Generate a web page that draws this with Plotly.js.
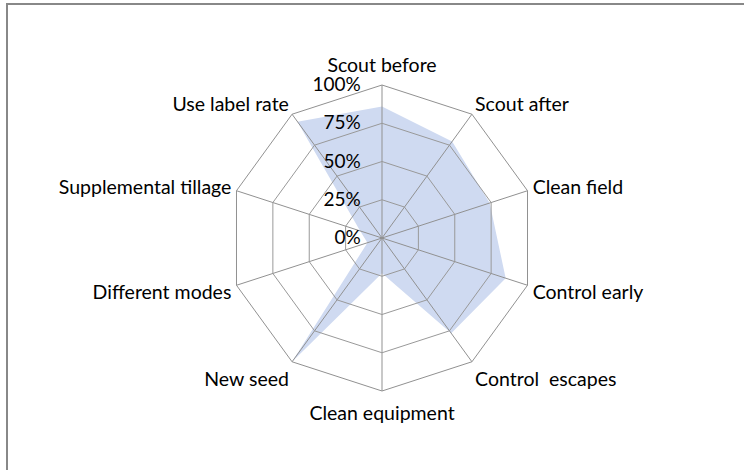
<!DOCTYPE html>
<html>
<head>
<meta charset="utf-8">
<script src="https://cdn.plot.ly/plotly-3.0.1.min.js"></script>
<style>html,body{margin:0;padding:0;background:#fff;}#chart{width:744px;height:470px;}</style>
</head>
<body>
<div id="chart"></div>
<script>
const categories = ["Scout before", "Scout after", "Clean field", "Control early", "Control\u00a0 escapes",
  "Clean equipment", "New seed", "Different modes", "Supplemental tillage", "Use label rate"];
const values = [0.86, 0.78, 0.74, 0.85, 0.77, 0.23, 1.00, 0.10, 0.15, 0.94];
const radialTicks = [0, 0.25, 0.5, 0.75, 1];

// top and bottom labels sit a little further from the web than the side ones
const verticalCats = [categories[0], categories[5]];
const sideText = categories.map(c => verticalCats.includes(c) ? "" : c);
const vertText = categories.map(c => verticalCats.includes(c) ? c : "");

const areaTrace = {
  type: "scatterpolar", subplot: "polar",
  r: values, theta: categories,
  fill: "toself", fillcolor: "#cfdaf1",
  mode: "lines", line: {width: 0, color: "rgba(0,0,0,0)"},
  hoverinfo: "skip"
};
// invisible traces that carry the category axes of the overlay subplots
const gridTrace = {
  type: "scatterpolar", subplot: "polar2",
  r: values, theta: categories,
  mode: "markers", marker: {size: 1, color: "rgba(0,0,0,0)"}, hoverinfo: "skip"
};
const labelTrace = {
  type: "scatterpolar", subplot: "polar3",
  r: values, theta: categories,
  mode: "markers", marker: {size: 1, color: "rgba(0,0,0,0)"}, hoverinfo: "skip"
};

const dom = {x: [229/744, 535/744], y: [79/470, 385/470]};
const FS = 19.5;

const layout = {
  width: 744, height: 470,
  margin: {l: 0, r: 0, t: 0, b: 0},
  paper_bgcolor: "#fff",
  showlegend: false,
  font: {family: "Lato, 'Liberation Sans', sans-serif", size: FS, color: "#000"},
  polar: {
    domain: dom, bgcolor: "rgba(0,0,0,0)", gridshape: "linear",
    angularaxis: {rotation: 90, direction: "clockwise", categoryarray: categories,
      showline: false, showgrid: false, showticklabels: false, ticks: ""},
    radialaxis: {range: [0, 1], angle: 90, showline: false, showgrid: false, showticklabels: false, ticks: ""}
  },
  polar2: {
    domain: dom, bgcolor: "rgba(0,0,0,0)", gridshape: "linear",
    angularaxis: {
      rotation: 90, direction: "clockwise", categoryarray: categories,
      tickmode: "array", tickvals: categories, ticktext: sideText,
      linecolor: "#919191", linewidth: 1, showline: true,
      gridcolor: "#919191", gridwidth: 1,
      ticks: "outside", ticklen: 1, tickcolor: "rgba(0,0,0,0)", tickfont: {size: FS}
    },
    radialaxis: {
      range: [0, 1], angle: 90, side: "counterclockwise",
      tickvals: radialTicks, tickformat: ".0%", tickangle: 90,
      showline: false, ticks: "outside", ticklen: 14, tickcolor: "rgba(0,0,0,0)",
      gridcolor: "#999", gridwidth: 1, tickfont: {size: 19}
    }
  },
  polar3: {
    domain: dom, bgcolor: "rgba(0,0,0,0)", gridshape: "linear",
    angularaxis: {
      rotation: 90, direction: "clockwise", categoryarray: categories,
      tickmode: "array", tickvals: categories, ticktext: vertText,
      showline: false, showgrid: false,
      ticks: "outside", ticklen: 5, tickcolor: "rgba(0,0,0,0)", tickfont: {size: FS}
    },
    radialaxis: {range: [0, 1], angle: 90, showline: false, showgrid: false, showticklabels: false, ticks: ""}
  },
  shapes: [{
    type: "rect", xref: "paper", yref: "paper",
    x0: 7/744, x1: 1.02, y0: -0.02, y1: 466/470,
    line: {color: "#888", width: 2}
  }]
};

Plotly.newPlot("chart", [areaTrace, gridTrace, labelTrace], layout, {staticPlot: true});
</script>
</body>
</html>
